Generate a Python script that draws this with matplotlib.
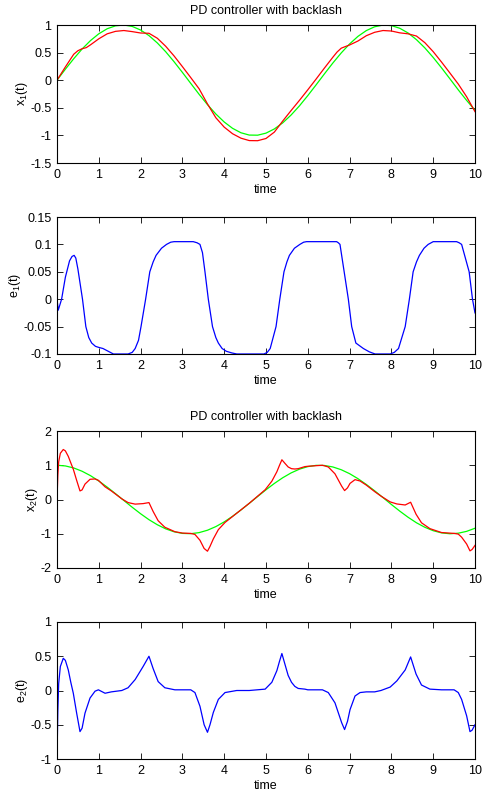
import numpy as np
import matplotlib
matplotlib.use("Agg")
import matplotlib.pyplot as plt

plt.rcParams['font.family'] = ['Liberation Sans', 'DejaVu Sans']
plt.rcParams['mathtext.default'] = 'regular'
plt.rcParams['font.size'] = 9

# --- panel 1 : x1(t) ---
t_ref = [0.0, 0.2, 0.4, 0.6, 0.8, 1.0, 1.2, 1.4, 1.6, 1.8, 2.0, 2.2, 2.4, 2.6, 2.8,
         3.0, 3.2, 3.4, 3.6, 3.8, 4.0, 4.2, 4.4, 4.6, 4.8, 5.0, 5.2, 5.4, 5.6, 5.8,
         6.0, 6.2, 6.4, 6.6, 6.8, 7.0, 7.2, 7.4, 7.6, 7.8, 8.0, 8.2, 8.4, 8.6, 8.8,
         9.0, 9.2, 9.4, 9.6, 9.8, 10.0]
x1_ref = [0.0, 0.199, 0.389, 0.565, 0.717, 0.841, 0.932, 0.985, 1.0, 0.974, 0.909,
          0.808, 0.675, 0.516, 0.335, 0.141, -0.058, -0.256, -0.443, -0.612, -0.757,
          -0.872, -0.952, -0.994, -0.996, -0.959, -0.883, -0.773, -0.631, -0.465,
          -0.279, -0.083, 0.117, 0.312, 0.494, 0.657, 0.794, 0.899, 0.968, 0.999,
          0.989, 0.941, 0.855, 0.734, 0.585, 0.412, 0.223, 0.025, -0.175, -0.366, -0.544]

t_x1 = [0.0, 0.2, 0.4, 0.5, 0.6, 0.7, 0.8, 1.0, 1.2, 1.4, 1.6, 1.8, 2.0, 2.2, 2.4,
        2.6, 2.8, 3.0, 3.2, 3.4, 3.6, 3.8, 4.0, 4.2, 4.4, 4.6, 4.8, 5.0, 5.2, 5.4,
        5.6, 5.8, 6.0, 6.2, 6.4, 6.6, 6.7, 6.8, 6.9, 7.0, 7.2, 7.4, 7.6, 7.8, 8.0,
        8.2, 8.4, 8.6, 8.8, 9.0, 9.2, 9.4, 9.6, 9.8, 10.0]
x1 = [0.0, 0.24, 0.47, 0.534, 0.57, 0.59, 0.64, 0.75, 0.84, 0.885, 0.90, 0.88, 0.855,
      0.85, 0.76, 0.615, 0.44, 0.246, 0.047, -0.156, -0.43, -0.68, -0.85, -0.97,
      -1.05, -1.094, -1.096, -1.056, -0.94, -0.74, -0.55, -0.365, -0.174, 0.022,
      0.222, 0.417, 0.51, 0.58, 0.61, 0.638, 0.71, 0.806, 0.868, 0.90, 0.891, 0.858,
      0.84, 0.80, 0.68, 0.517, 0.328, 0.13, -0.07, -0.30, -0.57]

# --- panel 2 : e1(t) ---
t_e1 = [0.0, 0.03, 0.11, 0.2, 0.3, 0.36, 0.41, 0.45, 0.5, 0.61, 0.69, 0.76, 0.83,
        0.92, 1.0, 1.1, 1.25, 1.35, 1.7, 1.8, 1.87, 1.95, 2.01, 2.12, 2.22, 2.3,
        2.37, 2.5, 2.62, 2.72, 2.8, 3.26, 3.35, 3.42, 3.48, 3.54, 3.62, 3.72, 3.8,
        3.86, 3.95, 4.05, 4.18, 4.3, 4.95, 5.03, 5.1, 5.24, 5.33, 5.43, 5.5, 5.56,
        5.68, 5.81, 5.9, 5.97, 6.69, 6.73, 6.77, 6.87, 6.97, 7.05, 7.15, 7.33,
        7.47, 7.61, 7.97, 8.07, 8.17, 8.33, 8.43, 8.52, 8.6, 8.67, 8.78, 8.88,
        9.0, 9.56, 9.62, 9.68, 9.86, 9.94, 10.0]
e1 = [0.0, -0.02, 0.0, 0.04, 0.07, 0.078, 0.08, 0.075, 0.055, 0.0, -0.05, -0.07,
      -0.08, -0.086, -0.088, -0.09, -0.096, -0.1, -0.1, -0.097, -0.09, -0.075, -0.05,
      0.0, 0.05, 0.068, 0.08, 0.093, 0.1, 0.104, 0.105, 0.105, 0.103, 0.1, 0.085,
      0.05, 0.0, -0.05, -0.07, -0.08, -0.09, -0.095, -0.098, -0.1, -0.1, -0.097,
      -0.09, -0.05, 0.0, 0.05, 0.068, 0.08, 0.093, 0.1, 0.104, 0.105, 0.105, 0.103,
      0.1, 0.05, 0.0, -0.05, -0.08, -0.09, -0.096, -0.1, -0.1, -0.097, -0.09, -0.05,
      0.0, 0.05, 0.068, 0.08, 0.093, 0.1, 0.105, 0.105, 0.103, 0.1, 0.05, 0.0, -0.025]

# --- panel 3 : x2(t) ---
x2_ref = [1.0, 0.980, 0.921, 0.825, 0.697, 0.540, 0.362, 0.170, -0.029, -0.227,
          -0.416, -0.589, -0.737, -0.857, -0.942, -0.990, -0.998, -0.967, -0.897,
          -0.791, -0.654, -0.490, -0.307, -0.112, 0.087, 0.284, 0.469, 0.635, 0.776,
          0.886, 0.960, 0.997, 0.993, 0.950, 0.869, 0.754, 0.608, 0.439, 0.253,
          0.054, -0.146, -0.339, -0.519, -0.680, -0.811, -0.911, -0.975, -1.000,
          -0.984, -0.930, -0.839]

t_e2 = [0.0, 0.02, 0.04, 0.08, 0.15, 0.2, 0.27, 0.33, 0.39, 0.47, 0.55, 0.6, 0.67,
        0.79, 0.91, 0.99, 1.15, 1.3, 1.55, 1.7, 1.87, 2.06, 2.2, 2.3, 2.42, 2.58,
        2.82, 3.0, 3.2, 3.3, 3.42, 3.52, 3.6, 3.66, 3.74, 3.86, 4.02, 4.3, 4.6,
        4.98, 5.14, 5.26, 5.32, 5.38, 5.45, 5.53, 5.61, 5.69, 5.77, 5.93, 6.0,
        6.35, 6.49, 6.65, 6.81, 6.88, 6.95, 7.01, 7.13, 7.25, 7.4, 7.6, 7.75,
        7.97, 8.13, 8.33, 8.46, 8.59, 8.72, 8.92, 9.2, 9.5, 9.6, 9.68, 9.8, 9.88,
        9.93, 10.0]
x2 = [0.0, 0.70, 1.10, 1.35, 1.46, 1.42, 1.26, 1.07, 0.885, 0.56, 0.25, 0.28, 0.45,
      0.59, 0.60, 0.56, 0.37, 0.25, 0.02, -0.09, -0.135, -0.12, -0.09, -0.35, -0.62,
      -0.81, -0.94, -0.98, -0.99, -1.02, -1.19, -1.43, -1.51, -1.37, -1.15, -0.88,
      -0.67, -0.40, -0.11, 0.285, 0.535, 0.81, 0.99, 1.16, 1.06, 0.95, 0.90, 0.89,
      0.90, 0.96, 0.97, 1.0, 0.95, 0.75, 0.39, 0.26, 0.34, 0.47, 0.58, 0.54, 0.42,
      0.23, 0.10, -0.07, -0.13, -0.16, -0.08, -0.43, -0.68, -0.85, -0.965, -0.99,
      -1.01, -1.10, -1.30, -1.50, -1.46, -1.34]

# --- panel 4 : e2(t) ---
e2 = [-1.0, -0.3, 0.1, 0.35, 0.47, 0.44, 0.3, 0.12, -0.04, -0.33, -0.6, -0.55, -0.33,
      -0.11, -0.01, 0.01, -0.04, -0.02, 0.0, 0.04, 0.16, 0.35, 0.5, 0.32, 0.13, 0.04,
      0.01, 0.01, 0.01, -0.03, -0.23, -0.5, -0.61, -0.5, -0.32, -0.13, -0.03, 0.0,
      0.0, 0.02, 0.12, 0.29, 0.42, 0.54, 0.39, 0.22, 0.12, 0.06, 0.03, 0.02, 0.01,
      0.01, -0.03, -0.18, -0.47, -0.57, -0.45, -0.28, -0.08, -0.03, -0.02, -0.02,
      0.0, 0.05, 0.14, 0.3, 0.49, 0.24, 0.08, 0.02, 0.01, 0.01, -0.03, -0.13, -0.37,
      -0.6, -0.58, -0.5]

xticks = list(range(0, 11))

fig = plt.figure(figsize=(4.83, 7.94), dpi=100)
W = 483.0
H = 794.0
boxes = [(25, 163), (217, 354), (431, 568), (622, 759)]
axes = []
for top, bot in boxes:
    ax = fig.add_axes([57 / W, 1 - bot / H, (475 - 57) / W, (bot - top) / H])
    axes.append(ax)

ax1, ax2, ax3, ax4 = axes
ax1.plot(t_ref, x1_ref, color='#00ff00', lw=0.9)
ax1.plot(t_x1, x1, color='#ff0000', lw=0.9)
ax1.set_ylim(-1.5, 1)
ax1.set_yticks([-1.5, -1, -0.5, 0, 0.5, 1])
ax1.set_yticklabels(['-1.5', '-1', '-0.5', '0', '0.5', '1'])
ax1.set_ylabel('x$_1$(t)', labelpad=0)
ax1.set_title('PD controller with backlash', fontsize=9, pad=8)

ax2.plot(t_e1, e1, color='#0000ff', lw=0.9)
ax2.set_ylim(-0.1, 0.15)
ax2.set_yticks([-0.1, -0.05, 0, 0.05, 0.1, 0.15])
ax2.set_yticklabels(['-0.1', '-0.05', '0', '0.05', '0.1', '0.15'])
ax2.set_ylabel('e$_1$(t)', labelpad=0)

ax3.plot(t_ref, x2_ref, color='#00ff00', lw=0.9)
ax3.plot(t_e2, x2, color='#ff0000', lw=0.9)
ax3.set_ylim(-2, 2)
ax3.set_yticks([-2, -1, 0, 1, 2])
ax3.set_yticklabels(['-2', '-1', '0', '1', '2'])
ax3.set_ylabel('x$_2$(t)', labelpad=0)
ax3.set_title('PD controller with backlash', fontsize=9, pad=8)

ax4.plot(t_e2, e2, color='#0000ff', lw=0.9)
ax4.set_ylim(-1, 1)
ax4.set_yticks([-1, -0.5, 0, 0.5, 1])
ax4.set_yticklabels(['-1', '-0.5', '0', '0.5', '1'])
ax4.set_ylabel('e$_2$(t)', labelpad=0)

for ax in axes:
    ax.set_xlim(0, 10)
    ax.set_xticks(xticks)
    ax.set_xticklabels([str(v) for v in xticks])
    ax.set_xlabel('time', labelpad=2.5)
    ax.tick_params(direction='in', top=True, right=True, length=4, width=0.6,
                   labelsize=9, pad=4)
    for s in ax.spines.values():
        s.set_linewidth(0.8)

fig.savefig('out.png', dpi=100)
